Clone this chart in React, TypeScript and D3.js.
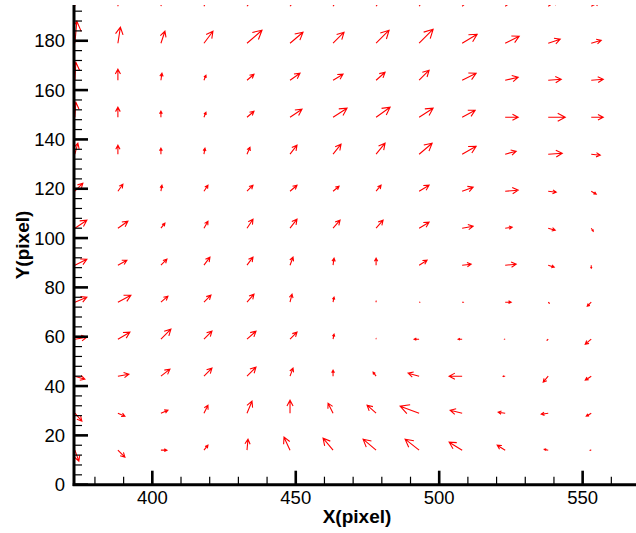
import React from "react";
import * as d3 from "d3";

// Grid positions (pixel coordinates of image)
const xs = [373, 388, 403, 418, 433, 448, 463, 478, 493, 508, 523, 538, 553];
const ys = [14, 29, 44, 59, 74, 89, 104, 119, 134, 149, 164, 179, 194];

// Displacement components, one row per y (bottom to top), one entry per x
const uRows = [
  [4, 7, 6, 4, 1, -6, -10, -13, -14, -13, -8, -4, -1],
  [7, 7, 7, 4, 5, 0, -5, -9, -19, -12, -7, -7, -5],
  [10, 11, 9, 8, 9, 3, 0, -3, -11, -13, -2, -5, -6],
  [12, 12, 10, 8, 9, 7, 1, 0, -5, -4, -0.5, -1, -6],
  [12, 13, 7, 7, 7, 2, 1, 0, 0.5, 1, 6, 1, -4],
  [12, 9, 6, 6, 6, 3, 1, 0, 8, 9, 11, 6, 0],
  [12, 10, 4, 4, 6, 7, 7, 7, 10, 11, 7, 7, 2],
  [8, 5, 1, 4, 6, 7, 6, 5, 10, 11, 13, 8, 5],
  [3, 0, 0, 1, 3, 7, 8, 9, 13, 14, 11, 14, 9],
  [1, 0, 0, 2, 7, 12, 14, 14, 14, 13, 13, 17, 12],
  [1, 0, 1, 2, 7, 10, 10, 9, 10, 14, 13, 13, 12],
  [2, 2.5, 4, 9, 15, 13, 11, 13, 14, 15, 14, 12, 10],
  [2, 2, 3, 6, 10, 10, 8, 10, 10, 12, 12, 10, 8],
];
const vRows = [
  [-11, -7, 0, 5, 11, 13, 12, 11, 11, 8, 5, 1, 0],
  [-8, -3, 3, 8, 12, 13, 10, 8, 7, 3, 1, -1, -3],
  [-3, 2, 7, 8, 9, 8, 6, 4, 3, 0, 0, -6, -4],
  [2, 7, 10, 8, 8, 7, 5, 0.5, 0, 0, 0, -1, -5],
  [5, 7, 6, 7, 8, 8, 5, 1, 0, 0, 0, -1, -4],
  [6, 5, 6, 8, 8, 8, 7, 7, 5, 1, 1, -2, -3],
  [8, 7, 5, 7, 9, 9, 8, 8, 6, 2, 1, -2, -3],
  [8, 7, 6, 6, 6, 6, 5, 6, 6, 4, 1, -1, -3],
  [11, 9, 6, 6, 7, 9, 10, 11, 11, 8, 3, 1, -1],
  [15, 10, 6, 5, 6, 8, 9, 10, 9, 7, 0, 0, 0],
  [18, 11, 7, 5, 6, 7, 6, 8, 10, 7, 3, 1, 1],
  [22, 16, 12, 12, 13, 11, 11, 13, 14, 9, 7, 4, 3],
  [20, 16, 12, 12, 12, 12, 12, 14, 14, 10, 8, 6, 4],
];

const xMajor = [400, 450, 500, 550];
const xMinor = [380, 390, 410, 420, 430, 440, 460, 470, 480, 490, 510, 520, 530, 540, 560];
const yMajor = [0, 20, 40, 60, 80, 100, 120, 140, 160, 180];
const yMinor = [4, 8, 12, 16, 24, 28, 32, 36, 44, 48, 52, 56, 64, 68, 72, 76, 84, 88, 92, 96, 104, 108, 112, 116, 124, 128, 132, 136, 144, 148, 152, 156, 164, 168, 172, 176, 184, 188, 192];

const W = 636;
const H = 533;
const FONT = "'Liberation Sans', Arial, Helvetica, sans-serif";

export default function App() {
  const x = d3.scaleLinear().domain([372.7, 568.6]).range([74, 636]);
  const y = d3.scaleLinear().domain([0, 194.5]).range([484.7, 5]);
  const x0 = x.range()[0];
  const y0 = y.range()[0];
  const scale = 1; // px per vector unit
  const headFrac = 0.5;
  const headAng = (28 * Math.PI) / 180;

  const arrows: string[] = [];
  ys.forEach((yv, ri) => {
    xs.forEach((xv, ci) => {
      const u = uRows[ri][ci] * scale;
      const v = vRows[ri][ci] * scale;
      const px = x(xv);
      const py = y(yv);
      const L = Math.hypot(u, v);
      if (L < 0.01) return;
      const tx = px + u;
      const ty = py - v;
      const ang = Math.atan2(-v, u);
      const h = L * headFrac;
      const b1x = tx - h * Math.cos(ang - headAng);
      const b1y = ty - h * Math.sin(ang - headAng);
      const b2x = tx - h * Math.cos(ang + headAng);
      const b2y = ty - h * Math.sin(ang + headAng);
      const p = d3.path();
      p.moveTo(px, py);
      p.lineTo(tx, ty);
      p.moveTo(b1x, b1y);
      p.lineTo(tx, ty);
      p.lineTo(b2x, b2y);
      arrows.push(p.toString());
    });
  });

  return (
    <svg
      width={W}
      height={H}
      style={{ position: "absolute", left: 0, top: 0, background: "#fff" }}
      fontFamily={FONT}
    >
      <defs>
        <clipPath id="plotClip">
          <rect x={x0} y={5} width={W - x0} height={y0 - 5} />
        </clipPath>
      </defs>
      <g clipPath="url(#plotClip)" fill="none" stroke="#f00" strokeWidth={1.1}>
        {arrows.map((d, i) => (
          <path key={i} d={d} />
        ))}
      </g>
      {/* X axis */}
      <g stroke="#000">
        {xMinor.map((t) => (
          <line key={"xm" + t} x1={x(t)} x2={x(t)} y1={y0} y2={y0 - 8} strokeWidth={1.2} />
        ))}
        {xMajor.map((t) => (
          <line key={"xM" + t} x1={x(t)} x2={x(t)} y1={y0} y2={y0 - 14} strokeWidth={2.6} />
        ))}
        {yMinor.map((t) => (
          <line key={"ym" + t} x1={x0} x2={x0 + 8} y1={y(t)} y2={y(t)} strokeWidth={1.2} />
        ))}
        {yMajor.map((t) => (
          <line key={"yM" + t} x1={x0} x2={x0 + 14} y1={y(t)} y2={y(t)} strokeWidth={2.6} />
        ))}
        <line x1={x0 - 1.3} x2={W} y1={y0} y2={y0} strokeWidth={3} />
        <line x1={x0} x2={x0} y1={5} y2={y0 + 1.3} strokeWidth={3} />
      </g>
      <g fontSize={18.5} fill="#000">
        {xMajor.map((t) => (
          <text key={"xl" + t} x={x(t)} y={504} textAnchor="middle">
            {t}
          </text>
        ))}
        {yMajor.map((t) => (
          <text key={"yl" + t} x={65} y={y(t) + 6.6} textAnchor="end">
            {t}
          </text>
        ))}
      </g>
      <text x={357} y={523} textAnchor="middle" fontSize={19} fontWeight="bold">
        X(pixel)
      </text>
      <text
        transform={`translate(28.5,245) rotate(-90)`}
        textAnchor="middle"
        fontSize={19}
        fontWeight="bold"
      >
        Y(pixel)
      </text>
    </svg>
  );
}
